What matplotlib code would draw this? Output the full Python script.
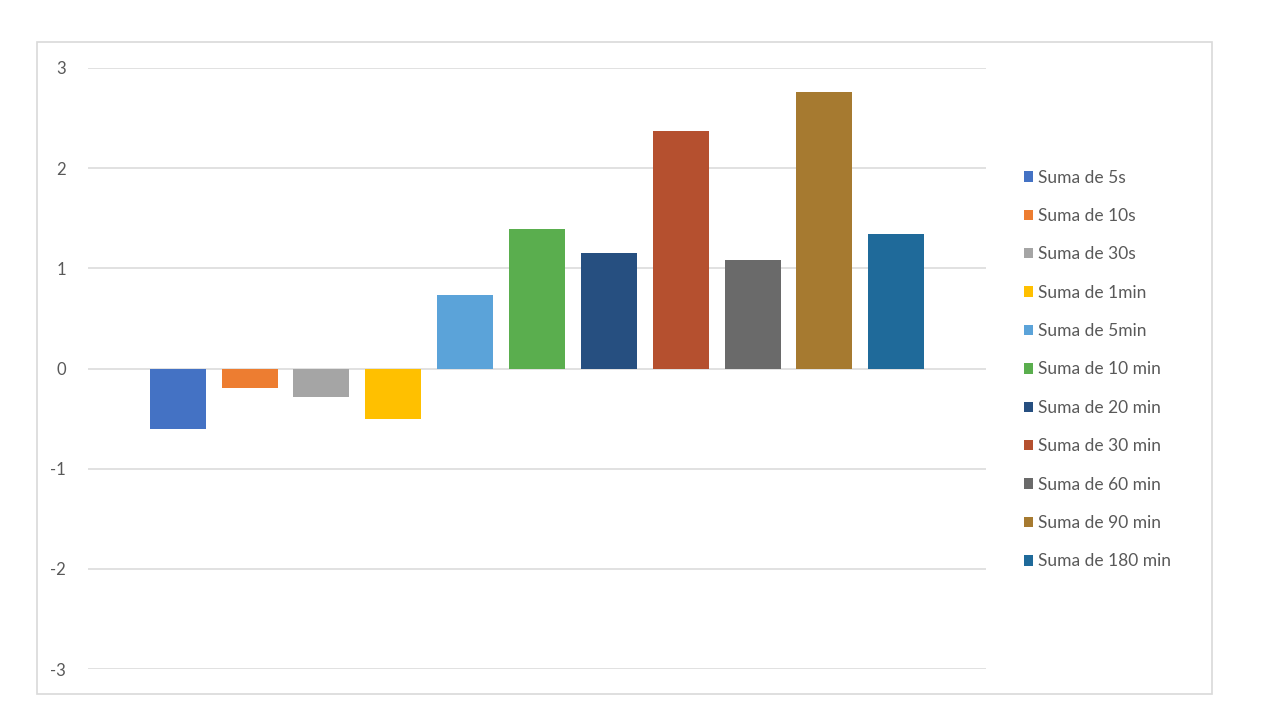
import matplotlib.pyplot as plt
from matplotlib.patches import Rectangle

# data
labels = ["Suma de 5s", "Suma de 10s", "Suma de 30s", "Suma de 1min", "Suma de 5min",
          "Suma de 10 min", "Suma de 20 min", "Suma de 30 min", "Suma de 60 min",
          "Suma de 90 min", "Suma de 180 min"]
values = [-0.60, -0.19, -0.28, -0.50, 0.73, 1.39, 1.15, 2.37, 1.08, 2.76, 1.34]
colors = ["#4472C4", "#ED7D31", "#A5A5A5", "#FFC000", "#5BA3D9", "#5AAE4E",
          "#264F80", "#B5502F", "#6A6A6A", "#A67A30", "#1F6A9A"]
yticks = [-3, -2, -1, 0, 1, 2, 3]

plt.rcParams["font.family"] = ["Lato", "DejaVu Sans"]

W, H = 1273, 722
fig = plt.figure(figsize=(W / 100, H / 100), dpi=100)
ax = fig.add_axes([88 / W, (H - 669) / H, (986 - 88) / W, (669 - 68) / H])

# outer chart frame
fig.patches.append(Rectangle((37 / W, (H - 694) / H), (1212 - 37) / W, (694 - 42) / H,
                             transform=fig.transFigure, fill=False,
                             edgecolor="#D9D9D9", linewidth=1.2))

for i, (lab, v, c) in enumerate(zip(labels, values, colors)):
    ax.bar(i, v, width=0.78, color=c, label=lab, zorder=3)

ax.set_ylim(-3, 3)
ax.set_xlim(-1.25, 11.25)
ax.set_yticks(yticks)
ax.set_yticklabels([str(t) for t in yticks], color="#595959", fontsize=12)
ax.set_xticks([])
ax.tick_params(axis="y", length=0, pad=16)
ax.grid(axis="y", color="#D9D9D9", linewidth=1.1, zorder=0)
for s in ax.spines.values():
    s.set_visible(False)

fig.legend(loc="center left", bbox_to_anchor=(1015 / W, (H - 369.5) / H),
           frameon=False, fontsize=12.5, labelcolor="#595959",
           handlelength=0.55, handleheight=0.55, handletextpad=0.3,
           labelspacing=1.29, borderpad=0)

fig.savefig("out.png", dpi=100)
